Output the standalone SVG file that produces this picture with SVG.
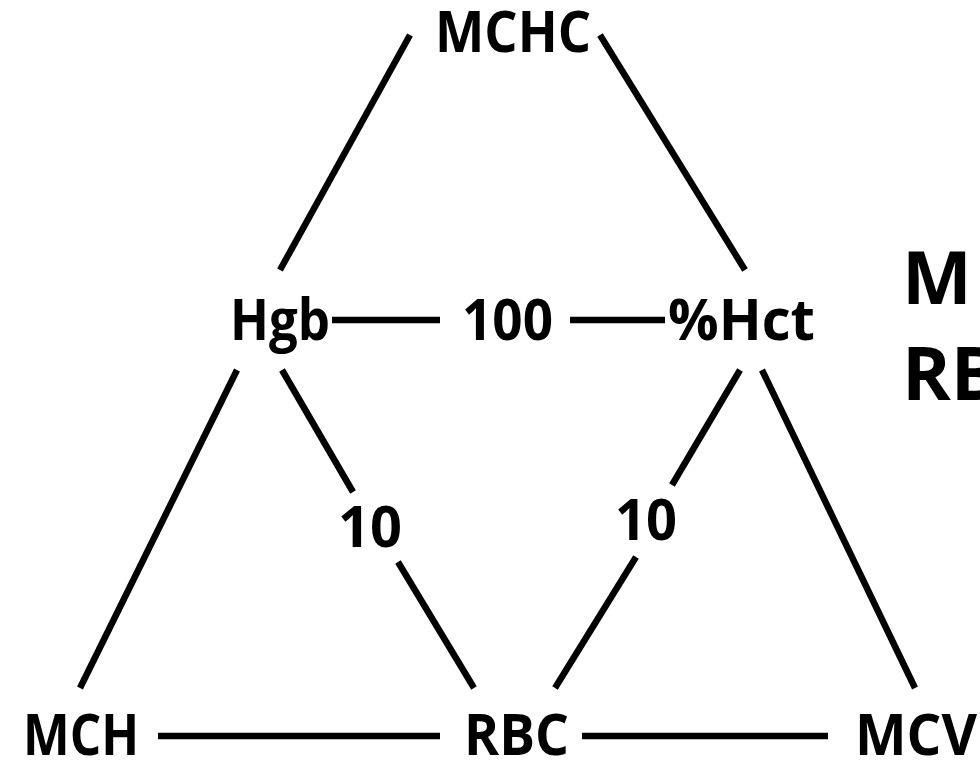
<svg xmlns="http://www.w3.org/2000/svg" width="980" height="765" viewBox="0 0 980 765">
  <style>
    .lbl { font-family: "Open Sans", "Noto Sans", "Liberation Sans", sans-serif; font-weight: bold; fill: #000; }
    .big { font-size: 57px; }
    .side { font-size: 74px; }
    .edge { stroke: #000; stroke-width: 6.5; fill: none; }
  </style>
  <rect width="980" height="765" fill="#fff"/>

  <g id="connectors">
    <line class="edge" x1="410" y1="35" x2="280" y2="270"/>
    <line class="edge" x1="600" y1="35" x2="745" y2="270"/>
    <line class="edge" x1="332" y1="320" x2="440" y2="320"/>
    <line class="edge" x1="570" y1="320" x2="665" y2="320"/>
    <line class="edge" x1="237" y1="370" x2="80" y2="688"/>
    <line class="edge" x1="282" y1="370" x2="353" y2="492"/>
    <line class="edge" x1="398" y1="562" x2="474" y2="688"/>
    <line class="edge" x1="740" y1="370" x2="672" y2="485"/>
    <line class="edge" x1="636" y1="557" x2="555" y2="688"/>
    <line class="edge" x1="762" y1="370" x2="915" y2="688"/>
    <line class="edge" x1="158" y1="736" x2="440" y2="736"/>
    <line class="edge" x1="582" y1="736" x2="828" y2="736"/>
  </g>

  <g id="node-mchc"><text class="lbl big" x="435" y="52" textLength="156" lengthAdjust="spacingAndGlyphs">MCHC</text></g>
  <g id="node-hgb"><text class="lbl big" x="230" y="340" textLength="100" lengthAdjust="spacingAndGlyphs">Hgb</text></g>
  <g id="node-100"><text class="lbl big" x="462" y="340" textLength="91" lengthAdjust="spacingAndGlyphs">100</text></g>
  <g id="node-hct"><text class="lbl big" x="668" y="340" textLength="147" lengthAdjust="spacingAndGlyphs">%Hct</text></g>
  <g id="node-10-left"><text class="lbl big" x="338" y="547" textLength="64" lengthAdjust="spacingAndGlyphs">10</text></g>
  <g id="node-10-right"><text class="lbl big" x="615" y="540" textLength="62" lengthAdjust="spacingAndGlyphs">10</text></g>
  <g id="node-mch"><text class="lbl big" x="23" y="755" textLength="116" lengthAdjust="spacingAndGlyphs">MCH</text></g>
  <g id="node-rbc"><text class="lbl big" x="464" y="755" textLength="105" lengthAdjust="spacingAndGlyphs">RBC</text></g>
  <g id="node-mcv"><text class="lbl big" x="855" y="755" textLength="122" lengthAdjust="spacingAndGlyphs">MCV</text></g>

  <g id="side-text">
    <text class="lbl side" x="902" y="304">M</text>
    <text class="lbl side" x="902" y="400">RB</text>
  </g>
</svg>
